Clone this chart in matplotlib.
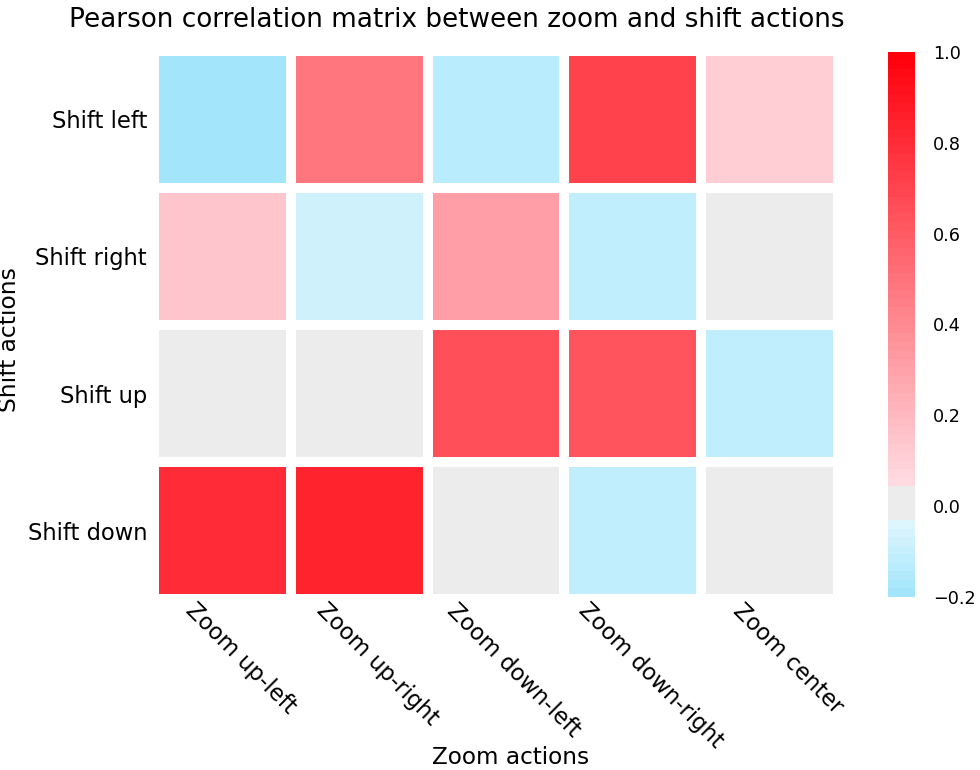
import numpy as np
import matplotlib
matplotlib.use('Agg')
import matplotlib.pyplot as plt
from matplotlib.colors import LinearSegmentedColormap, Normalize
from matplotlib.transforms import ScaledTranslation

plt.rcParams['font.family'] = ['DejaVu Sans']

# Données
shift_actions = ['Shift left', 'Shift right', 'Shift up', 'Shift down']
zoom_actions = ['Zoom up-left', 'Zoom up-right', 'Zoom down-left',
                'Zoom down-right', 'Zoom center']
corr = np.array([
    [-0.19, 0.48, -0.14, 0.70, 0.11],
    [0.14, -0.08, 0.31, -0.11, 0.00],
    [0.00, 0.00, 0.65, 0.64, -0.12],
    [0.80, 0.84, 0.00, -0.11, 0.00],
])
cbar_ticks = [-0.2, 0.0, 0.2, 0.4, 0.6, 0.8, 1.0]

# Palette : bleu -> gris autour de 0 -> rouge
vmin, vmax = -0.2, 1.0
def pos(v):
    return (v - vmin) / (vmax - vmin)

nodes = [
    (pos(-0.2), '#a3e6fb'),
    (pos(-0.04), '#e0f6fd'),
    (pos(-0.04), '#ececec'),
    (pos(0.04), '#ececec'),
    (pos(0.04), '#ffdde3'),
    (pos(1.0), '#ff000c'),
]
cmap = LinearSegmentedColormap.from_list('zoomshift', nodes, N=64)
norm = Normalize(vmin=vmin, vmax=vmax)

fig = plt.figure(figsize=(9.8, 7.7), dpi=100)
ax = fig.add_axes([154 / 980, 1 - 599 / 770, 684 / 980, 548 / 770])
mesh = ax.pcolormesh(corr, cmap=cmap, norm=norm, edgecolors='white', linewidth=7.2)
ax.set_xlim(0, len(zoom_actions))
ax.set_ylim(len(shift_actions), 0)
for s in ax.spines.values():
    s.set_visible(False)

ax.set_xticks(np.arange(len(zoom_actions)) + 0.5)
ax.set_yticks(np.arange(len(shift_actions)) + 0.5)
ax.tick_params(axis='x', length=0, pad=0)
ax.tick_params(axis='y', length=0, pad=5)
ax.set_yticklabels(shift_actions, fontsize=16.3)
xl = ax.set_xticklabels(zoom_actions, fontsize=16.3, rotation=-45, ha='center')
# décalage des étiquettes vers la droite (après tick_params, sinon réinitialisé)
offset = ScaledTranslation(18 / 100, 0, fig.dpi_scale_trans)
for lab in xl:
    lab.set_transform(lab.get_transform() + offset)

# Barre de couleur
cax = fig.add_axes([888 / 980, 1 - 597 / 770, 27 / 980, 545 / 770])
cb = fig.colorbar(mesh, cax=cax, ticks=cbar_ticks)
cb.outline.set_visible(False)
cb.ax.tick_params(length=0, pad=13, labelsize=12.7)
cb.ax.set_yticklabels([f'{t:.1f}'.replace('-', '\u2212') for t in cbar_ticks])

fig.text(457 / 980, 1 - 27 / 770, 'Pearson correlation matrix between zoom and shift actions',
         ha='center', va='baseline', fontsize=18.9)
fig.text(511 / 980, 1 - 757 / 770, 'Zoom actions', ha='center', va='center', fontsize=16.7)
fig.text(10 / 980, 1 - 340 / 770, 'Shift actions', ha='center', va='center',
         rotation=90, fontsize=16.8)

fig.savefig('out.png', dpi=100)
